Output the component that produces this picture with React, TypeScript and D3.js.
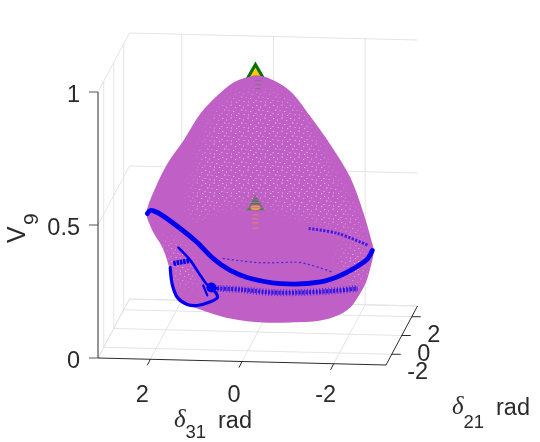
import React from "react";
import * as d3 from "d3";

const PI = Math.PI;
const delta31Ticks = [2, 0, -2];
const delta21Ticks = [-2, 0, 2];
const vTicks = [0, 0.5, 1];
const vTickLabels = ["0", "0.5", "1"];

// Silhouette of the voltage surface, seen in the plane delta21 = 0
const outlineDelta31 = [0.01, -0.28, -0.71, -1.15, -1.59, -2.02, -2.31, -2.48, -2.53, -2.46, -2.35, -2.18, -2.02, -1.74, -1.37, -0.71, -0.12, 0.6, 1.32, 1.75, 1.86, 1.93, 2.08, 2.3, 2.43, 2.39, 2.23, 1.97, 1.62, 1.25, 0.88, 0.53, 0.16];
const outlineV = [0.965, 0.952, 0.908, 0.815, 0.71, 0.589, 0.455, 0.354, 0.317, 0.253, 0.192, 0.139, 0.101, 0.069, 0.049, 0.039, 0.036, 0.048, 0.083, 0.111, 0.175, 0.234, 0.309, 0.372, 0.435, 0.466, 0.534, 0.625, 0.713, 0.816, 0.885, 0.936, 0.96];

// Blue boundary curves
const mainDelta31 = [2.41, 2.34, 2.19, 1.69, 1.32, 0.97, 0.6, 0.23, -0.5, -1.37, -1.74, -2.09, -2.4, -2.5];
const mainV = [0.435, 0.447, 0.44, 0.382, 0.331, 0.272, 0.229, 0.204, 0.184, 0.194, 0.215, 0.247, 0.286, 0.317];
const loopDelta31 = [1.91, 1.86, 1.75, 1.54, 1.32, 1.08, 0.88, 0.92, 1.08];
const loopV = [0.234, 0.167, 0.122, 0.097, 0.094, 0.106, 0.126, 0.145, 0.163];
const ridgeDelta31 = [1.73, 1.47, 1.25, 1.08, 0.88];
const ridgeV = [0.31, 0.263, 0.207, 0.17, 0.16];
const stubDelta31 = [1.19, 1.1];
const stubV = [0.17, 0.133];
const barDelta31 = [1.84, 1.47];
const barV = [0.25, 0.263];
const bandDelta31 = [0.88, 0.38, -0.28, -1.0, -1.74, -2.18];
const bandV = [0.16, 0.158, 0.15, 0.153, 0.163, 0.173];
const upperDelta31 = [-1.11, -1.74, -2.42];
const upperV = [0.394, 0.378, 0.335];
const midDelta31 = [0.75, 0.01, -0.5, -0.93, -1.65];
const midV = [0.273, 0.261, 0.263, 0.265, 0.231];
const knotDelta31 = [1.01];
const knotV = [0.163];

// Thin places in the surface
const thinADelta31 = [0.64, -0.71, -1.48, -2.29, -1.81, -0.93, 0.05, 0.81, 1.43, 1.25];
const thinAV = [0.868, 0.873, 0.651, 0.372, 0.389, 0.442, 0.483, 0.465, 0.421, 0.639];
const thinBDelta31 = [2.08, 1.69, 1.4, 1.4, 1.8, 1.95];
const thinBV = [0.347, 0.318, 0.237, 0.176, 0.186, 0.279];
const thinCDelta31 = [-1.91, -2.4, -2.2, -1.81];
const thinCV = [0.333, 0.316, 0.184, 0.239];

// Solution markers
const markerDelta31 = [0.05, 0.05];
const markerV = [0.968, 0.475];
const traceV = [0.44, 0.425, 0.41, 0.39];
const topTraceV = [0.945, 0.93, 0.915];

const xS = d3.scaleLinear().domain([PI, -PI]).range([0, 288]);
const yS = d3.scaleLinear().domain([-PI, PI]).range([0, 1]);
const zS = d3.scaleLinear().domain([0, 1]).range([358, 92]);

const project = (d31: number, d21: number, v: number): [number, number] => [
  98 + xS(d31) + yS(d21) * 31.5,
  zS(v) + (xS(d31) * 7) / 288 - yS(d21) * 59,
];
const zip = (a: number[], b: number[]) => a.map((d, i) => project(d, 0, b[i]));
const seg = (p: [number, number], q: [number, number]) => `M${p[0]},${p[1]}L${q[0]},${q[1]}`;
const smooth = d3.line().curve(d3.curveCatmullRom.alpha(0.5));
const closed = d3.line().curve(d3.curveCatmullRomClosed.alpha(0.5));

const PURPLE = "#c060c6";
const BLUE = "#0000f0";
const INK = "#2b2b2b";
const GRID = "#e4e4e4";

const Sub = ({ x, y, sym, sub, tail, drop }: { x: number; y: number; sym: string; sub: string; tail: string; drop: number }) => (
  <g fill={INK}>
    <text x={x} y={y - 1} fontFamily="Liberation Serif" fontStyle="italic" fontSize={25}>{sym}</text>
    <text x={x + 11.5} y={y + drop} fontFamily="Liberation Sans" fontSize={18.5}>{sub}</text>
    <text x={x + 44} y={y} fontFamily="Liberation Sans" fontSize={23.5}>{tail}</text>
  </g>
);

export default function App() {
  const gridFloor: string[] = [];
  const gridWalls: string[] = [];
  delta31Ticks.forEach((t) => {
    gridFloor.push(seg(project(t, -PI, 0), project(t, PI, 0)));
    gridWalls.push(seg(project(t, PI, 0), project(t, PI, 1)));
  });
  delta21Ticks.forEach((t) => {
    gridFloor.push(seg(project(PI, t, 0), project(-PI, t, 0)));
    gridWalls.push(seg(project(PI, t, 0), project(PI, t, 1)));
  });
  vTicks.forEach((t) => {
    gridWalls.push(seg(project(PI, -PI, t), project(PI, PI, t)));
    gridWalls.push(seg(project(PI, PI, t), project(-PI, PI, t)));
  });
  const floorEdges = [
    seg(project(PI, -PI, 0), project(PI, PI, 0)),
    seg(project(PI, PI, 0), project(-PI, PI, 0)),
  ];
  const triangle = d3.symbol().type(d3.symbolTriangle).size(130)() as string;
  const innerTriangle = d3.symbol().type(d3.symbolTriangle).size(150)() as string;
  const [m0, m1] = [zip(markerDelta31, markerV)[0], zip(markerDelta31, markerV)[1]];
  const knot = zip(knotDelta31, knotV)[0];
  const thinAreas = [
    closed(zip(thinADelta31, thinAV)) as string,
    closed(zip(thinBDelta31, thinBV)) as string,
    closed(zip(thinCDelta31, thinCV)) as string,
  ];

  return (
    <svg width={540} height={442} style={{ position: "absolute", left: 0, top: 0 }}>
      <defs>
        <filter id="soft" x="0" y="0" width="100%" height="100%">
          <feGaussianBlur stdDeviation="0.35" />
        </filter>
        <filter id="edge" x="-30%" y="-30%" width="160%" height="160%">
          <feGaussianBlur stdDeviation="7" />
        </filter>
        <mask id="thin" maskUnits="userSpaceOnUse" x="0" y="0" width="540" height="442">
          <g filter="url(#edge)">
            {thinAreas.map((d, i) => <path key={i} d={d} fill="#fff" />)}
          </g>
        </mask>
        <clipPath id="surface"><path d={closed(zip(outlineDelta31, outlineV)) as string} /></clipPath>
        <pattern id="speck" width="17" height="13" patternUnits="userSpaceOnUse">
          <rect x="1" y="1" width="1.3" height="1" fill="#fff" />
          <rect x="5" y="2.5" width="1" height="1" fill="#fff" />
          <rect x="9.5" y="0.5" width="1.2" height="1.2" fill="#fff" />
          <rect x="14" y="3" width="1.2" height="0.8" fill="#fff" />
          <rect x="3" y="5.5" width="1.4" height="1" fill="#fff" />
          <rect x="7.5" y="6" width="1" height="0.8" fill="#fff" />
          <rect x="12" y="7" width="1.3" height="1" fill="#fff" />
          <rect x="0.5" y="9" width="1" height="1" fill="#fff" />
          <rect x="5.5" y="10" width="1.3" height="0.8" fill="#fff" />
          <rect x="10" y="10.5" width="1" height="1" fill="#fff" />
          <rect x="15" y="11" width="1.2" height="1" fill="#fff" />
        </pattern>
        <pattern id="stripe" width="3" height="2.6" patternUnits="userSpaceOnUse">
          <rect y="1.6" width="3" height="1" fill={PURPLE} />
        </pattern>
      </defs>
      <g filter="url(#soft)">
        <path d={gridFloor.join("")} stroke={GRID} fill="none" />
        <path d={gridWalls.join("")} stroke={GRID} fill="none" />
        <path d={floorEdges.join("")} stroke={GRID} fill="none" />

        <path d={triangle} transform={`translate(${m0[0]},${m0[1]})`} fill="#ffc800" stroke="#007000" strokeWidth={3} />

        <path d={closed(zip(outlineDelta31, outlineV)) as string} fill={PURPLE} />
        <g clipPath="url(#surface)">
          <rect width={540} height={442} fill="url(#speck)" mask="url(#thin)" opacity={0.6} />
        </g>

        {topTraceV.map((v) => {
          const p = project(markerDelta31[0] - 0.06, 0, v);
          return <rect key={v} x={p[0] - 3} y={p[1] - 0.6} width={6} height={1.2} fill="#7d6f80" opacity={0.7} />;
        })}
        <path d={innerTriangle} transform={`translate(${m1[0]},${m1[1]})`} fill="#3f7d3a" opacity={0.85} />
        <ellipse cx={m1[0]} cy={m1[1] + 2} rx={5} ry={2.6} fill="#f2a23c" />
        <path d={innerTriangle} transform={`translate(${m1[0]},${m1[1]})`} fill="url(#stripe)" opacity={0.85} />
        {traceV.map((v) => {
          const p = project(markerDelta31[1], 0, v);
          return <rect key={v} x={p[0] - 3} y={p[1] - 0.6} width={6} height={1.2} fill="#d89060" opacity={0.8} />;
        })}

        <g fill="none" stroke={BLUE} strokeLinecap="round" strokeLinejoin="round">
          <path d={smooth(zip(midDelta31, midV)) as string} strokeWidth={1.4} strokeDasharray="1 3.5" opacity={0.6} />
          <path d={smooth(zip(upperDelta31, upperV)) as string} strokeWidth={3} strokeDasharray="2.2 1.5" strokeLinecap="butt" opacity={0.7} />
          <path d={smooth(zip(bandDelta31, bandV)) as string} strokeWidth={7} strokeDasharray="1 2" strokeLinecap="butt" opacity={0.55} />
          <path d={smooth(zip(bandDelta31, bandV)) as string} strokeWidth={4} strokeDasharray="2 1.4" strokeLinecap="butt" opacity={0.7} />
          <path d={smooth(zip(mainDelta31, mainV)) as string} strokeWidth={4.8} />
          <path d={smooth(zip(loopDelta31, loopV)) as string} strokeWidth={3.2} />
          <path d={smooth(zip(ridgeDelta31, ridgeV)) as string} strokeWidth={2.6} />
          <path d={smooth(zip(stubDelta31, stubV)) as string} strokeWidth={2.2} />
          <path d={smooth(zip(barDelta31, barV)) as string} strokeWidth={5} strokeDasharray="2.5 0.8" strokeLinecap="butt" />
          <circle cx={knot[0]} cy={knot[1]} r={5} fill={BLUE} stroke="none" />
        </g>

        <g stroke={INK} fill="none" strokeWidth={1}>
          <path d={seg(project(PI, -PI, 0), project(PI, -PI, 1))} />
          <path d={seg(project(PI, -PI, 0), project(-PI, -PI, 0))} />
          <path d={seg(project(-PI, -PI, 0), project(-PI, PI, 0))} />
          {vTicks.map((t) => {
            const p = project(PI, -PI, t);
            return <path key={t} d={`M${p[0]},${p[1]}h-9`} stroke="#555" />;
          })}
          {delta31Ticks.map((t) => {
            const p = project(t, -PI, 0);
            return <path key={t} d={`M${p[0]},${p[1]}l-3,6`} />;
          })}
          {delta21Ticks.map((t) => {
            const p = project(-PI, t, 0);
            return <path key={t} d={`M${p[0]},${p[1]}l9,0`} />;
          })}
        </g>

        <g fill={INK} fontFamily="Liberation Sans" fontSize={23.5}>
          {vTicks.map((t, i) => {
            const p = project(PI, -PI, t);
            return <text key={t} x={p[0] - 18} y={p[1] + 9.5} textAnchor="end">{vTickLabels[i]}</text>;
          })}
          {delta31Ticks.map((t) => {
            const p = project(t, -PI, 0);
            return <text key={t} x={p[0] - 8} y={401.5} textAnchor="middle">{t}</text>;
          })}
          {delta21Ticks.map((t) => {
            const p = project(-PI, t, 0);
            return <text key={t} x={p[0] + (t < 0 ? 26 : 22)} y={p[1] + 25} textAnchor="middle">{t}</text>;
          })}
        </g>

        <g fill={INK} fontFamily="Liberation Sans">
          <text transform="translate(25,243) rotate(-90)" fontSize={25}>V</text>
          <text transform="translate(38,225) rotate(-90)" fontSize={21}>9</text>
        </g>
        <Sub x={174} y={428} sym="δ" sub="31" tail="rad" drop={10} />
        <Sub x={452} y={415} sym="δ" sub="21" tail="rad" drop={13} />
      </g>
    </svg>
  );
}
